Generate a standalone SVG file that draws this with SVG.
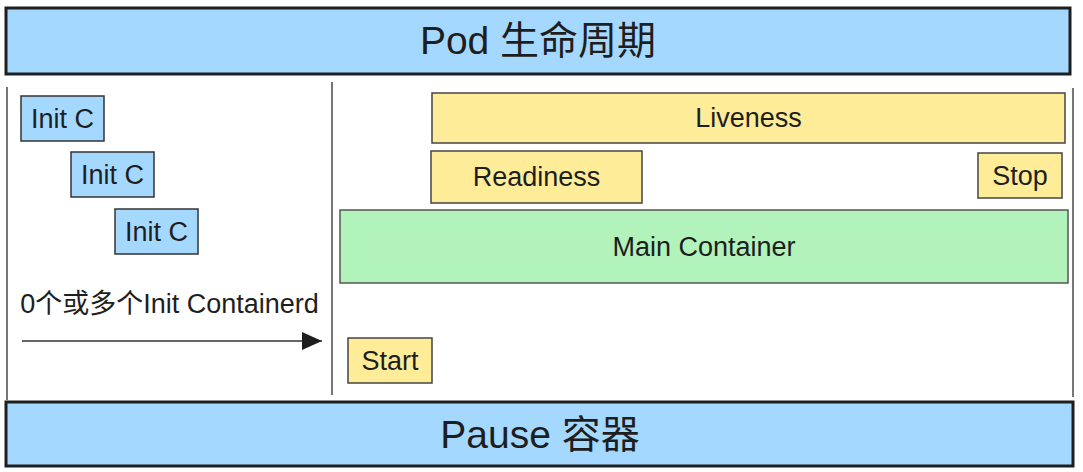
<svg xmlns="http://www.w3.org/2000/svg" width="1083" height="472" viewBox="0 0 1083 472">
  <style>
    text { font-family: "Liberation Sans", "Noto Sans CJK SC", sans-serif; fill: #1e1e1e; text-anchor: middle; }
    .lbl { font-size: 27px; }
    .big { font-size: 39px; }
    .bar { fill: #a5d8ff; stroke: #1e1e1e; stroke-width: 3; }
    .blue { fill: #a5d8ff; stroke: #333; stroke-width: 1.5; }
    .yellow { fill: #ffec99; stroke: #444; stroke-width: 1.5; }
    .green { fill: #b2f2bb; stroke: #555; stroke-width: 1.5; }
    .divider { stroke: #555; stroke-width: 1.6; fill: none; }
    .conn { stroke: #333; stroke-width: 1.6; fill: none; }
  </style>
  <defs>
    <marker id="arrow" markerWidth="20" markerHeight="18" refX="20" refY="9" orient="auto" markerUnits="userSpaceOnUse">
      <path d="M0,0 L20,9 L0,18 Z" fill="#1e1e1e"/>
    </marker>
  </defs>
  <rect width="1083" height="472" fill="#ffffff"/>

  <g id="dividers">
    <line class="divider" x1="7" y1="87" x2="7" y2="400"/>
    <line class="divider" x1="332" y1="82" x2="332" y2="395"/>
    <line class="divider" x1="1073" y1="88" x2="1073" y2="397"/>
  </g>

  <g id="pod-lifecycle">
    <rect class="bar" x="6" y="8" width="1064" height="66"/>
    <text class="big" x="538" y="54">Pod 生命周期</text>
  </g>

  <g id="init-c-1">
    <rect class="blue" x="21" y="96" width="83" height="45"/>
    <text class="lbl" x="62.5" y="128">Init C</text>
  </g>
  <g id="init-c-2">
    <rect class="blue" x="71" y="152" width="83" height="45"/>
    <text class="lbl" x="112.5" y="184">Init C</text>
  </g>
  <g id="init-c-3">
    <rect class="blue" x="115" y="209" width="83" height="45"/>
    <text class="lbl" x="156.5" y="241">Init C</text>
  </g>

  <g id="init-label">
    <text class="lbl" x="169.5" y="313">0个或多个Init Containerd</text>
  </g>

  <g id="liveness">
    <rect class="yellow" x="432" y="93" width="633" height="50"/>
    <text class="lbl" x="748.5" y="127">Liveness</text>
  </g>
  <g id="readiness">
    <rect class="yellow" x="431" y="151" width="211" height="52"/>
    <text class="lbl" x="536.5" y="186">Readiness</text>
  </g>
  <g id="stop">
    <rect class="yellow" x="978" y="153" width="84" height="45"/>
    <text class="lbl" x="1020" y="185">Stop</text>
  </g>
  <g id="main-container">
    <rect class="green" x="340" y="210" width="728" height="73"/>
    <text class="lbl" x="704" y="256">Main Container</text>
  </g>
  <g id="start">
    <rect class="yellow" x="348" y="338" width="84" height="45"/>
    <text class="lbl" x="390" y="370">Start</text>
  </g>

  <g id="pause-container">
    <rect class="bar" x="6" y="402" width="1067" height="64"/>
    <text class="big" x="540" y="448">Pause 容器</text>
  </g>

  <g id="connectors">
    <line class="conn" x1="22" y1="341" x2="322" y2="341" marker-end="url(#arrow)"/>
  </g>
</svg>
